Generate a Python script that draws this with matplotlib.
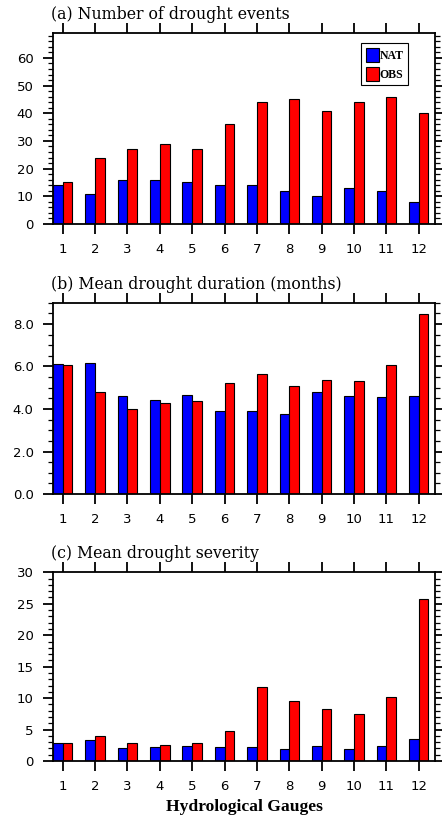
"""Drought statistics at twelve hydrological gauges: NAT vs OBS."""
import matplotlib
matplotlib.use("Agg")
import matplotlib.pyplot as plt
import numpy as np
from matplotlib.ticker import MultipleLocator, FormatStrFormatter

gauges = np.arange(1, 13)

events_nat = [14, 11, 16, 16, 15, 14, 14, 12, 10, 13, 12, 8]
events_obs = [15, 24, 27, 29, 27, 36, 44, 45, 41, 44, 46, 40]

duration_nat = [6.13, 6.17, 4.61, 4.44, 4.66, 3.91, 3.91, 3.78, 4.80, 4.61, 4.56, 4.61]
duration_obs = [6.06, 4.78, 4.02, 4.28, 4.39, 5.20, 5.66, 5.06, 5.36, 5.30, 6.06, 8.47]

severity_nat = [2.8, 3.3, 2.0, 2.3, 2.4, 2.3, 2.3, 1.9, 2.4, 1.9, 2.4, 3.5]
severity_obs = [2.8, 3.9, 2.8, 2.5, 2.8, 4.7, 11.8, 9.6, 8.2, 7.4, 10.1, 25.7]

titles = ["(a) Number of drought events",
          "(b) Mean drought duration (months)",
          "(c) Mean drought severity"]

BLUE = "#0000FF"
RED = "#FF0000"
W = 0.3

fig = plt.figure(figsize=(4.42, 8.19), dpi=100)
boxes = [(0.120, 0.7265, 0.864, 0.2332),
         (0.120, 0.3968, 0.864, 0.2336),
         (0.120, 0.0708, 0.864, 0.2304)]
panels = [
    (events_nat, events_obs, 69, 10, 2, "%d"),
    (duration_nat, duration_obs, 9, 2, 0.5, "%.1f"),
    (severity_nat, severity_obs, 30, 5, 1, "%d"),
]

for i, (box, (nat, obs, ymax, major, minor, fmt)) in enumerate(zip(boxes, panels)):
    ax = fig.add_axes(box)
    ax.bar(gauges - W / 2, nat, W, color=BLUE, edgecolor="black", linewidth=0.8, label="NAT")
    ax.bar(gauges + W / 2, obs, W, color=RED, edgecolor="black", linewidth=0.8, label="OBS")

    ax.set_xlim(0.7, 12.5)
    ax.set_ylim(0, ymax)
    ax.set_xticks(gauges)
    ax.yaxis.set_major_locator(MultipleLocator(major))
    ax.yaxis.set_minor_locator(MultipleLocator(minor))
    ax.yaxis.set_major_formatter(FormatStrFormatter(fmt))

    for s in ax.spines.values():
        s.set_linewidth(1.3)
    ax.tick_params(which="both", direction="out", top=True, right=True,
                   labelsize=9.5, pad=7)
    ax.tick_params(which="major", length=7, width=1.3)
    ax.tick_params(which="minor", length=3.5, width=0.9)
    for lab in ax.get_xticklabels() + ax.get_yticklabels():
        lab.set_family("DejaVu Sans")

    ax.annotate(titles[i], xy=(0, 1), xycoords="axes fraction",
                xytext=(-1.5, 10), textcoords="offset points",
                ha="left", va="baseline", fontsize=11.3, family="DejaVu Serif")

    if i == 0:
        leg = ax.legend(loc="upper right", bbox_to_anchor=(0.930, 0.946),
                        borderaxespad=0, fancybox=False, framealpha=1,
                        edgecolor="black", handlelength=1.1, handleheight=1.45,
                        handletextpad=0.1, labelspacing=0.42, borderpad=0.38,
                        prop={"family": "Liberation Serif", "weight": "bold", "size": 8.5})
        leg.get_frame().set_linewidth(0.8)
    if i == 2:
        ax.set_xlabel("Hydrological Gauges", fontsize=12.6, fontweight="bold",
                      family="Liberation Serif", labelpad=4)

fig.savefig("out.png", dpi=100)
